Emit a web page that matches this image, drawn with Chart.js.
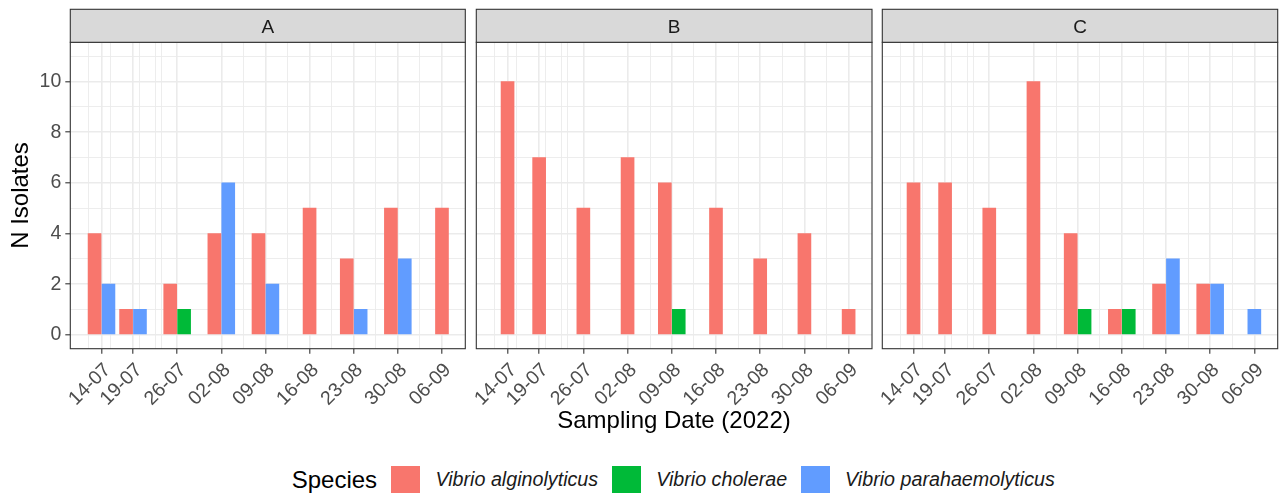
<!DOCTYPE html>
<html>
<head>
<meta charset="utf-8">
<title>Vibrio isolates by sampling date</title>
<script src="https://cdn.jsdelivr.net/npm/chart.js@4.4.1/dist/chart.umd.min.js"></script>
<style>
  html, body { margin: 0; padding: 0; background: #ffffff; }
  body { width: 1284px; height: 493px; position: relative; overflow: hidden;
         font-family: "Liberation Sans", Arial, sans-serif; }
  canvas.facet { position: absolute; top: 0; }
  #xtitle { position: absolute; left: 474px; width: 400px; top: 408px; height: 24px;
            line-height: 24px; font-size: 24px; text-align: center; color: #000; white-space: nowrap; }
  #legend { position: absolute; left: 291.7px; top: 465.7px; height: 28.6px;
            display: flex; align-items: center; white-space: nowrap; }
  #legend .title { font-size: 24px; color: #000; margin-right: 14.4px; }
  #legend .key { width: 28.6px; height: 28.6px; margin-right: 15.4px; flex: none; }
  #legend .lab { font-size: 19.7px; font-style: italic; color: #1A1A1A; margin-right: 14px; }
</style>
</head>
<body>
<canvas id="facetA" class="facet" width="480" height="445" style="left:0px"></canvas>
<canvas id="facetB" class="facet" width="450" height="445" style="left:436px"></canvas>
<canvas id="facetC" class="facet" width="442" height="445" style="left:842px"></canvas>
<div id="xtitle">Sampling Date (2022)</div>
<div id="legend"></div>

<script>
// Sampling dates and their axis labels
const SAMPLING_DATES = ['2022-07-14','2022-07-19','2022-07-26','2022-08-02','2022-08-09',
                        '2022-08-16','2022-08-23','2022-08-30','2022-09-06'];
const TICK_LABELS = ['14-07','19-07','26-07','02-08','09-08','16-08','23-08','30-08','06-09'];

// Facets and species
const FACETS = ['A', 'B', 'C'];
const SPECIES = ['Vibrio alginolyticus', 'Vibrio cholerae', 'Vibrio parahaemolyticus'];
const SPECIES_COLOURS = ['#F8766D', '#00BA38', '#619CFF'];

// Number of isolates per sampling date (null = none recovered)
const A_ALGINOLYTICUS    = [4, 1, 2, 4, 4, 5, 3, 5, 5];
const A_CHOLERAE         = [null, null, 1, null, null, null, null, null, null];
const A_PARAHAEMOLYTICUS = [2, 1, null, 6, 2, null, 1, 3, null];

const B_ALGINOLYTICUS    = [10, 7, 5, 7, 6, 5, 3, 4, 1];
const B_CHOLERAE         = [null, null, null, null, 1, null, null, null, null];
const B_PARAHAEMOLYTICUS = [null, null, null, null, null, null, null, null, null];

const C_ALGINOLYTICUS    = [6, 6, 5, 10, 4, 1, 2, 2, null];
const C_CHOLERAE         = [null, null, null, null, 1, 1, null, null, null];
const C_PARAHAEMOLYTICUS = [null, null, null, null, null, null, 3, 2, 1];

// Axis breaks
const Y_TICKS = [0, 2, 4, 6, 8, 10];
const Y_MINOR = [1, 3, 5, 7, 9, 11];
// minor vertical grid lines, in days after the first sampling date
const X_MINOR_DAYS = [-2.0, 1.45, 5.95, 8.6, 9.5, 22.6, 29.5, 36.5, 43.5, 50.5];

// Per-facet series, in species order
const FACET_SERIES = [
  [A_ALGINOLYTICUS, A_CHOLERAE, A_PARAHAEMOLYTICUS],
  [B_ALGINOLYTICUS, B_CHOLERAE, B_PARAHAEMOLYTICUS],
  [C_ALGINOLYTICUS, C_CHOLERAE, C_PARAHAEMOLYTICUS]
];

const FONT = '"Liberation Sans", Arial, sans-serif';
const DAY_MS = 86400000;
const day0 = Date.parse(SAMPLING_DATES[0] + 'T00:00:00Z');
const DAYS = SAMPLING_DATES.map(d => Math.round((Date.parse(d + 'T00:00:00Z') - day0) / DAY_MS));

const X_MIN = -4.95, X_MAX = 57.7;     // date axis limits (days)
const Y_MIN = -0.55, Y_MAX = 11.55;
const DODGE_DAYS = 2.2;                // spacing between side-by-side bars
const BAR_PX = 13;

// facet strip + panel border
const facetFrame = {
  id: 'facetFrame',
  afterDraw(chart, args, opts) {
    const { ctx, chartArea: { left, right, top, bottom } } = chart;
    ctx.save();
    ctx.strokeStyle = '#333333';
    ctx.lineWidth = 1.1;
    ctx.strokeRect(left, top, right - left, bottom - top);
    ctx.fillStyle = '#D9D9D9';
    ctx.fillRect(left, top - 33, right - left, 33);
    ctx.strokeRect(left, top - 33, right - left, 33);
    ctx.fillStyle = '#1A1A1A';
    ctx.font = '19px ' + FONT;
    ctx.textAlign = 'center';
    ctx.textBaseline = 'alphabetic';
    ctx.fillText(opts.label, (left + right) / 2, top - 9);
    ctx.restore();
  }
};

function labelForDay(v) {
  const i = DAYS.findIndex(d => Math.abs(d - v) < 1e-6);
  return i >= 0 ? TICK_LABELS[i] : '';
}

function buildFacet(canvasId, f) {
  const series = FACET_SERIES[f];
  const datasets = SPECIES.map((name, s) => ({
    label: name,
    data: [],
    backgroundColor: SPECIES_COLOURS[s],
    borderWidth: 0,
    barThickness: BAR_PX,
    grouped: false
  }));
  // dodge the species present on each date around the date position
  DAYS.forEach((day, i) => {
    const present = series.map((vals, s) => vals[i] != null ? s : -1).filter(s => s >= 0);
    present.forEach((s, k) => {
      datasets[s].data.push({ x: day + (k - (present.length - 1) / 2) * DODGE_DAYS, y: series[s][i] });
    });
  });

  const first = f === 0;
  const pad = [
    { top: 42.3, left: 0, right: 14.7, bottom: 0 },
    { top: 42.3, left: 40.3, right: 14, bottom: 0 },
    { top: 42.3, left: 40.3, right: 6.3, bottom: 0 }
  ][f];

  return new Chart(document.getElementById(canvasId), {
    type: 'bar',
    data: { datasets },
    plugins: [facetFrame],
    options: {
      responsive: false,
      animation: false,
      events: [],
      layout: { padding: pad },
      plugins: {
        legend: { display: false },
        tooltip: { enabled: false },
        facetFrame: { label: FACETS[f] }
      },
      scales: {
        x: {
          type: 'linear',
          min: X_MIN, max: X_MAX,
          bounds: 'data',
          offset: false,
          afterBuildTicks: sc => {
            const t = DAYS.map(v => ({ value: v, main: true }))
              .concat(X_MINOR_DAYS.map(v => ({ value: v, main: false })));
            t.sort((a, b) => a.value - b.value);
            sc.ticks = t;
          },
          afterFit: sc => { sc.height = 445 - 348.7; },
          ticks: {
            autoSkip: false, minRotation: 45, maxRotation: 45,
            color: '#4D4D4D', padding: 5, labelOffset: 6,
            font: { family: FONT, size: 19.5 },
            callback: v => labelForDay(v)
          },
          grid: {
            offset: false,
            color: '#EBEBEB',
            lineWidth: c => (c.tick && c.tick.main) ? 1.6 : 0.9,
            tickLength: 5,
            tickColor: c => (c.tick && c.tick.main) ? '#333333' : 'rgba(0,0,0,0)',
            tickWidth: 1.1
          },
          border: { display: false }
        },
        y: {
          type: 'linear',
          min: Y_MIN, max: Y_MAX,
          bounds: 'data',
          afterBuildTicks: sc => {
            sc.ticks = Y_TICKS.map(v => ({ value: v, main: true }))
              .concat(Y_MINOR.map(v => ({ value: v, main: false })))
              .sort((a, b) => a.value - b.value);
          },
          afterFit: sc => { sc.width = first ? 70.3 : 0; },
          ticks: {
            display: first,
            color: '#4D4D4D', padding: 4,
            font: { family: FONT, size: 19.5 },
            callback: v => Y_TICKS.includes(v) ? String(v) : ''
          },
          grid: {
            color: '#EBEBEB',
            lineWidth: c => (c.tick && c.tick.main) ? 1.6 : 0.9,
            drawTicks: first,
            tickLength: 5,
            tickColor: c => (c.tick && c.tick.main) ? '#333333' : 'rgba(0,0,0,0)',
            tickWidth: 1.1
          },
          border: { display: false },
          title: {
            display: first, text: 'N Isolates', color: '#000000',
            font: { family: FONT, size: 24 }, padding: { top: 7, bottom: 0 }
          }
        }
      }
    }
  });
}

buildFacet('facetA', 0);
buildFacet('facetB', 1);
buildFacet('facetC', 2);

// shared legend
const legend = document.getElementById('legend');
const lt = document.createElement('span');
lt.className = 'title';
lt.textContent = 'Species';
legend.appendChild(lt);
SPECIES.forEach((name, s) => {
  const key = document.createElement('div');
  key.className = 'key';
  key.style.background = SPECIES_COLOURS[s];
  legend.appendChild(key);
  const lab = document.createElement('span');
  lab.className = 'lab';
  lab.textContent = name;
  legend.appendChild(lab);
});
</script>
</body>
</html>
